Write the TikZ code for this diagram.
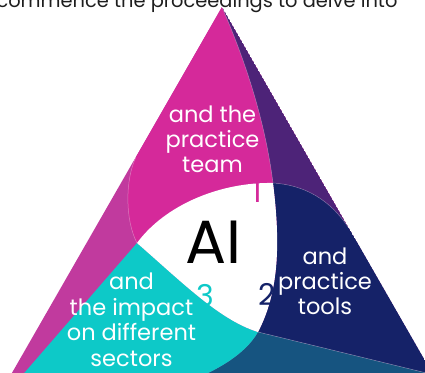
\documentclass[tikz,border=0pt]{standalone}
\usepackage{fontspec}
\setmainfont{Poppins}
\definecolor{mag}{HTML}{D5299A}
\definecolor{strip}{HTML}{C13A9E}
\definecolor{purp}{HTML}{4D2378}
\definecolor{navy}{HTML}{152268}
\definecolor{cyanb}{HTML}{0DC9C8}
\definecolor{tealb}{HTML}{165480}
\definecolor{ink}{HTML}{1E1E1E}
\tikzset{
  lbl/.style={text=white, align=center, anchor=base, inner sep=0pt, font=\fontsize{22.5}{25}\selectfont},
  num/.style={anchor=base, inner sep=0pt, font=\fontsize{30}{30}\selectfont},
  seam/.style={draw=white, draw opacity=0.35, line width=0.5pt}
}
\begin{document}
\begin{tikzpicture}[x=1pt,y=-1pt]
\useasboundingbox (0,0) rectangle (425,372);
\clip (0,0) rectangle (425,372);
\coordinate (A) at (222,7);
\coordinate (L) at (137,243);
\coordinate (T) at (273,183);
\coordinate (B) at (258,332);
\coordinate (E) at (348,227);
\coordinate (M) at (136,157);
\begin{scope}
\clip (A) -- (-65,507) -- (509,507) -- cycle;
\fill[strip] (A) -- (-65,507) -- (509,507) -- cycle;
\fill[mag] (A) -- (M) .. controls (125,180) and (125,220) .. (L)
  .. controls (165,205) and (220,182) .. (T)
  .. controls (265,120) and (245,60) .. (A) -- cycle;
\fill[purp] (A) -- (E) .. controls (330,200) and (305,185) .. (T)
  .. controls (265,120) and (245,60) .. (A) -- cycle;
\fill[navy] (T) .. controls (305,185) and (330,200) .. (E) -- (480,440) -- (480,386)
  -- (B) .. controls (280,290) and (280,240) .. (T) -- cycle;
\fill[tealb] (B) -- (480,386) -- (480,440) -- (100,440) -- (180,385)
  .. controls (215,372) and (245,355) .. (B) -- cycle;
\fill[cyanb] (L) .. controls (185,285) and (220,320) .. (B)
  .. controls (245,355) and (215,372) .. (180,385) -- (150,440) -- (-20,440) -- (-20,424) -- cycle;
\fill[white] (L) .. controls (165,205) and (220,182) .. (T)
  .. controls (280,240) and (280,290) .. (B)
  .. controls (220,320) and (185,285) .. (L) -- cycle;
\path[seam] (M) .. controls (125,180) and (125,220) .. (L);
\path[seam] (A) .. controls (245,60) and (265,120) .. (T);
\path[seam] (T) .. controls (305,185) and (330,200) .. (E);
\path[seam] (B) -- (480,386);
\end{scope}
\node[anchor=base, inner sep=0pt, text=ink, font=\fontsize{19.4}{19.4}\selectfont] (title) at (197,7.3) {commence the proceedings to delve into};
\node[lbl] (team) at (212.5,172) {and the\\practice\\team};
\node[lbl] (tools) at (325,314) {and\\practice\\tools};
\node[lbl, font=\fontsize{22.5}{25.6}\selectfont] (impact) at (131.5,366.5) {and\\the impact\\on different\\sectors};
\node[anchor=base, inner sep=0pt, font=\fontsize{61}{61}\selectfont] (ai) at (213.5,263) {AI};
\node[num, text=mag] (n1) at (257,202) {1};
\node[num, text=navy] (n2) at (267,305) {2};
\node[num, text=cyanb] (n3) at (205,306) {3};
\end{tikzpicture}
\end{document}
